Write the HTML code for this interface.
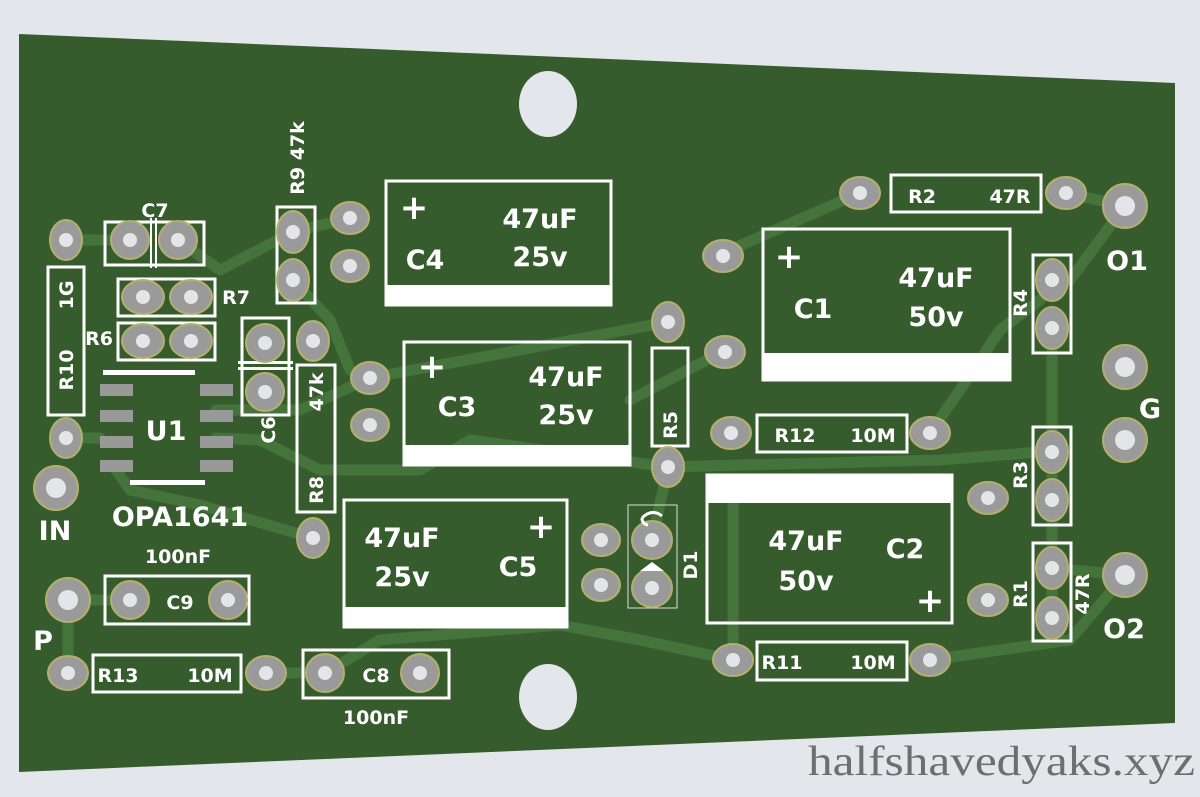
<!DOCTYPE html>
<html><head><meta charset="utf-8"><style>
html,body{margin:0;padding:0;background:#e3e6ea;}
svg{display:block}
text{font-family:"DejaVu Sans","Liberation Sans",sans-serif;fill:#fff;font-weight:bold}
.s{fill:none;stroke:#fff;stroke-width:3}
.t{fill:none;stroke:#44733b;stroke-width:11;stroke-linejoin:round;stroke-linecap:round}
.p{fill:#9a9a9a;stroke:#b4b06c;stroke-width:2}
.h{fill:#e3e5e8}
.smd{fill:#999}
</style></head><body>
<svg width="1200" height="797" viewBox="0 0 1200 797" xmlns="http://www.w3.org/2000/svg">
<rect width="1200" height="797" fill="#e3e6ea"/>
<polygon points="19,34 1175,83 1175,723 19,772" fill="#365c2e"/>
<g class="t">
<polyline points="66,240 130,240"/>
<polyline points="178,240 220,270 293,232 350,218"/>
<polyline points="66,438 100,438"/>
<polyline points="216,410 300,410 370,378"/>
<polyline points="216,438 260,440 320,470 420,470 470,440 668,467"/>
<polyline points="116,470 130,490 200,505 313,538"/>
<polyline points="293,280 330,320 350,370 370,378"/>
<polyline points="370,378 520,350 668,322"/>
<polyline points="630,400 726,350"/>
<polyline points="723,253 860,193"/>
<polyline points="1066,193 1125,206"/>
<polyline points="1125,206 1070,280"/>
<polyline points="930,433 960,390 1000,330 1040,300"/>
<polyline points="1052,328 1052,618"/>
<polyline points="668,467 940,460 1040,452"/>
<polyline points="668,467 652,540"/>
<polyline points="733,500 733,660"/>
<polyline points="930,660 1070,640 1125,575"/>
<polyline points="1052,568 1125,575"/>
<polyline points="68,600 68,673"/>
<polyline points="68,600 130,600"/>
<polyline points="266,673 325,673"/>
<polyline points="325,673 380,640 560,625 640,640 733,660"/>
</g>
<ellipse cx="548" cy="104" rx="29" ry="33" fill="#e3e6ea"/>
<ellipse cx="548" cy="697" rx="29" ry="33" fill="#e3e6ea"/>
<g class="s">
<rect x="48" y="267" width="36" height="148"/>
<rect x="105" y="222" width="99" height="43"/>
<rect x="118" y="279" width="97" height="37"/>
<rect x="118" y="323" width="97" height="37"/>
<rect x="105" y="576" width="144" height="48"/>
<rect x="93" y="655" width="148" height="37"/>
<rect x="303" y="650" width="146" height="48"/>
<rect x="277" y="207" width="38" height="96"/>
<rect x="242" y="318" width="47" height="97"/>
<rect x="297" y="365" width="38" height="147"/>
<rect x="386" y="181" width="225" height="124"/>
<rect x="404" y="342" width="226" height="123"/>
<rect x="344" y="500" width="223" height="127"/>
<rect x="652" y="348" width="36" height="98"/>
<rect x="763" y="229" width="247" height="151"/>
<rect x="891" y="175" width="150" height="37"/>
<rect x="1033" y="255" width="38" height="98"/>
<rect x="757" y="415" width="150" height="37"/>
<rect x="1033" y="427" width="38" height="98"/>
<rect x="707" y="475" width="245" height="148"/>
<rect x="1033" y="543" width="38" height="98"/>
<rect x="757" y="642" width="150" height="38"/>
</g>
<rect x="628" y="505" width="49" height="103" fill="none" stroke="#ddd" stroke-width="1"/>
<g fill="#fff">
<rect x="386" y="285" width="225" height="20"/>
<rect x="404" y="445" width="226" height="20"/>
<rect x="344" y="607" width="223" height="20"/>
<rect x="763" y="353" width="247" height="27"/>
<rect x="707" y="475" width="245" height="28"/>
<rect x="150" y="218" width="2" height="50"/><rect x="155" y="218" width="2" height="50"/>
<rect x="238" y="361" width="55" height="3"/><rect x="238" y="367" width="55" height="3"/>
<rect x="103" y="370" width="92" height="5"/>
<rect x="130" y="480" width="75" height="5"/>
</g>
<g class="smd">
<rect x="100" y="384" width="33" height="12"/><rect x="100" y="410" width="33" height="12"/>
<rect x="100" y="436" width="33" height="12"/><rect x="100" y="460" width="33" height="12"/>
<rect x="200" y="384" width="33" height="12"/><rect x="200" y="410" width="33" height="12"/>
<rect x="200" y="436" width="33" height="12"/><rect x="200" y="460" width="33" height="12"/>
</g>
<g>
<g class="p">
<ellipse cx="66" cy="240" rx="16" ry="20"/><ellipse cx="66" cy="438" rx="16" ry="20"/>
<ellipse cx="130" cy="240" rx="19" ry="19"/><ellipse cx="178" cy="240" rx="19" ry="19"/>
<ellipse cx="143" cy="297" rx="21" ry="17"/><ellipse cx="191" cy="297" rx="21" ry="17"/>
<ellipse cx="143" cy="341" rx="21" ry="17"/><ellipse cx="191" cy="341" rx="21" ry="17"/>
<circle cx="56" cy="488" r="22"/><circle cx="68" cy="600" r="22"/>
<ellipse cx="130" cy="600" rx="19" ry="19"/><ellipse cx="228" cy="600" rx="19" ry="19"/>
<ellipse cx="68" cy="673" rx="20" ry="17"/><ellipse cx="266" cy="673" rx="20" ry="17"/>
<ellipse cx="325" cy="673" rx="19" ry="19"/><ellipse cx="420" cy="673" rx="19" ry="19"/>
<ellipse cx="293" cy="232" rx="16" ry="21"/><ellipse cx="293" cy="280" rx="16" ry="21"/>
<ellipse cx="350" cy="218" rx="19" ry="16"/><ellipse cx="350" cy="266" rx="19" ry="16"/>
<ellipse cx="265" cy="343" rx="19" ry="19"/><ellipse cx="265" cy="392" rx="19" ry="19"/>
<ellipse cx="313" cy="341" rx="16" ry="20"/><ellipse cx="313" cy="538" rx="16" ry="20"/>
<ellipse cx="370" cy="378" rx="19" ry="16"/><ellipse cx="370" cy="425" rx="19" ry="16"/>
<ellipse cx="601" cy="540" rx="19" ry="16"/><ellipse cx="601" cy="585" rx="19" ry="16"/>
<ellipse cx="652" cy="540" rx="20" ry="19"/><ellipse cx="652" cy="588" rx="20" ry="19"/>
<ellipse cx="668" cy="322" rx="16" ry="20"/><ellipse cx="668" cy="467" rx="16" ry="20"/>
<ellipse cx="723" cy="256" rx="20" ry="16"/><ellipse cx="725" cy="352" rx="20" ry="16"/>
<ellipse cx="860" cy="193" rx="20" ry="16"/><ellipse cx="1066" cy="193" rx="20" ry="16"/>
<circle cx="1125" cy="206" r="22"/><circle cx="1125" cy="367" r="22"/><circle cx="1125" cy="440" r="22"/><circle cx="1125" cy="575" r="22"/>
<ellipse cx="1052" cy="280" rx="16" ry="21"/><ellipse cx="1052" cy="328" rx="16" ry="21"/>
<ellipse cx="731" cy="433" rx="20" ry="16"/><ellipse cx="930" cy="433" rx="20" ry="16"/>
<ellipse cx="1052" cy="452" rx="16" ry="21"/><ellipse cx="1052" cy="500" rx="16" ry="21"/>
<ellipse cx="988" cy="498" rx="20" ry="16"/><ellipse cx="988" cy="600" rx="20" ry="16"/>
<ellipse cx="1052" cy="568" rx="16" ry="21"/><ellipse cx="1052" cy="618" rx="16" ry="21"/>
<ellipse cx="733" cy="660" rx="20" ry="16"/><ellipse cx="930" cy="660" rx="20" ry="16"/>
</g>
<g class="h">
<circle cx="66" cy="240" r="7"/><circle cx="66" cy="438" r="7"/>
<circle cx="130" cy="240" r="7"/><circle cx="178" cy="240" r="7"/>
<circle cx="143" cy="297" r="7"/><circle cx="191" cy="297" r="7"/>
<circle cx="143" cy="341" r="7"/><circle cx="191" cy="341" r="7"/>
<circle cx="56" cy="488" r="10"/><circle cx="68" cy="600" r="10"/>
<circle cx="130" cy="600" r="7"/><circle cx="228" cy="600" r="7"/>
<circle cx="68" cy="673" r="7"/><circle cx="266" cy="673" r="7"/>
<circle cx="325" cy="673" r="7"/><circle cx="420" cy="673" r="7"/>
<circle cx="293" cy="232" r="7"/><circle cx="293" cy="280" r="7"/>
<circle cx="350" cy="218" r="7"/><circle cx="350" cy="266" r="7"/>
<circle cx="265" cy="343" r="7"/><circle cx="265" cy="392" r="7"/>
<circle cx="313" cy="341" r="7"/><circle cx="313" cy="538" r="7"/>
<circle cx="370" cy="378" r="7"/><circle cx="370" cy="425" r="7"/>
<circle cx="601" cy="540" r="7"/><circle cx="601" cy="585" r="7"/>
<circle cx="652" cy="540" r="7"/><circle cx="652" cy="588" r="7"/>
<circle cx="668" cy="322" r="7"/><circle cx="668" cy="467" r="7"/>
<circle cx="723" cy="256" r="7"/><circle cx="725" cy="352" r="7"/>
<circle cx="860" cy="193" r="7"/><circle cx="1066" cy="193" r="7"/>
<circle cx="1125" cy="206" r="10"/><circle cx="1125" cy="367" r="10"/><circle cx="1125" cy="440" r="10"/><circle cx="1125" cy="575" r="10"/>
<circle cx="1052" cy="280" r="7"/><circle cx="1052" cy="328" r="7"/>
<circle cx="731" cy="433" r="7"/><circle cx="930" cy="433" r="7"/>
<circle cx="1052" cy="452" r="7"/><circle cx="1052" cy="500" r="7"/>
<circle cx="988" cy="498" r="7"/><circle cx="988" cy="600" r="7"/>
<circle cx="1052" cy="568" r="7"/><circle cx="1052" cy="618" r="7"/>
<circle cx="733" cy="660" r="7"/><circle cx="930" cy="660" r="7"/>
</g>
</g>
<path d="M642,518 q10,-10 20,-2 M642,518 q0,6 6,7" fill="none" stroke="#fff" stroke-width="3"/>
<polygon points="640,571 664,571 652,562" fill="#fff"/>
<g font-size="27" text-anchor="middle">
<text x="540" y="228">47uF</text><text x="540" y="266">25v</text><text x="425" y="269">C4</text>
<text x="566" y="386">47uF</text><text x="566" y="424">25v</text><text x="457" y="416">C3</text>
<text x="402" y="547">47uF</text><text x="402" y="586">25v</text><text x="518" y="576">C5</text>
<text x="936" y="287">47uF</text><text x="936" y="326">50v</text><text x="813" y="318">C1</text>
<text x="806" y="550">47uF</text><text x="806" y="590">50v</text><text x="905" y="558">C2</text>
<text x="166" y="440">U1</text><text x="180" y="526">OPA1641</text>
<text x="55" y="540">IN</text><text x="43" y="650">P</text>
<text x="1127" y="270">O1</text><text x="1150" y="418">G</text><text x="1124" y="638">O2</text>
</g>
<g font-size="34" font-weight="normal" text-anchor="middle">
<text x="414" y="219">+</text><text x="432" y="378">+</text><text x="541" y="538">+</text>
<text x="789" y="268">+</text><text x="930" y="612">+</text>
</g>
<g font-size="19" text-anchor="middle">
<text x="155" y="217">C7</text><text x="236" y="304">R7</text><text x="99" y="345">R6</text>
<text x="178" y="563">100nF</text><text x="180" y="609">C9</text>
<text x="118" y="682">R13</text><text x="210" y="682">10M</text>
<text x="376" y="682">C8</text><text x="376" y="724">100nF</text>
<text x="922" y="203">R2</text><text x="1010" y="203">47R</text>
<text x="795" y="442">R12</text><text x="873" y="442">10M</text>
<text x="782" y="669">R11</text><text x="873" y="669">10M</text>
<text transform="translate(73,295) rotate(-90)">1G</text>
<text transform="translate(73,370) rotate(-90)">R10</text>
<text transform="translate(304,158) rotate(-90)">R9 47k</text>
<text transform="translate(275,430) rotate(-90)">C6</text>
<text transform="translate(323,392) rotate(-90)">47k</text>
<text transform="translate(323,490) rotate(-90)">R8</text>
<text transform="translate(677,425) rotate(-90)">R5</text>
<text transform="translate(697,565) rotate(-90)">D1</text>
<text transform="translate(1027,303) rotate(-90)">R4</text>
<text transform="translate(1027,475) rotate(-90)">R3</text>
<text transform="translate(1027,594) rotate(-90)">R1</text>
<text transform="translate(1089,594) rotate(-90)">47R</text>
</g>
<text x="808" y="775" textLength="387" lengthAdjust="spacingAndGlyphs" font-size="42" style="fill:#6e6e6e;font-family:'Liberation Serif',serif;font-weight:normal">halfshavedyaks.xyz</text>
</svg>
</body></html>
